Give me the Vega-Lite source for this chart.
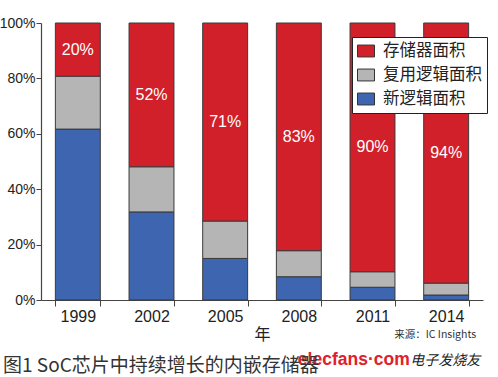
{
  "$schema": "https://vega.github.io/schema/vega-lite/v6.json",
  "width": 442,
  "height": 277,
  "autosize": {"type": "none"},
  "padding": {"left": 41, "top": 23, "right": 15, "bottom": 77},
  "background": "white",
  "config": {"view": {"stroke": null}, "font": "Liberation Sans"},
  "title": {
    "text": "图1  SoC芯片中持续增长的内嵌存储器",
    "orient": "bottom",
    "anchor": "start",
    "frame": "group",
    "dx": -38,
    "offset": -12,
    "font": "Noto Sans CJK SC",
    "fontSize": 19,
    "fontWeight": "normal",
    "color": "#333333"
  },
  "data": {
    "values": [
      {"year": "1999", "cat": "新逻辑面积", "rank": 1, "value": 61.7, "label": ""},
      {"year": "1999", "cat": "复用逻辑面积", "rank": 2, "value": 19.1, "label": ""},
      {"year": "1999", "cat": "存储器面积", "rank": 3, "value": 19.2, "label": "20%"},
      {"year": "2002", "cat": "新逻辑面积", "rank": 1, "value": 31.8, "label": ""},
      {"year": "2002", "cat": "复用逻辑面积", "rank": 2, "value": 16.3, "label": ""},
      {"year": "2002", "cat": "存储器面积", "rank": 3, "value": 51.9, "label": "52%"},
      {"year": "2005", "cat": "新逻辑面积", "rank": 1, "value": 15.0, "label": ""},
      {"year": "2005", "cat": "复用逻辑面积", "rank": 2, "value": 13.5, "label": ""},
      {"year": "2005", "cat": "存储器面积", "rank": 3, "value": 71.5, "label": "71%"},
      {"year": "2008", "cat": "新逻辑面积", "rank": 1, "value": 8.4, "label": ""},
      {"year": "2008", "cat": "复用逻辑面积", "rank": 2, "value": 9.4, "label": ""},
      {"year": "2008", "cat": "存储器面积", "rank": 3, "value": 82.2, "label": "83%"},
      {"year": "2011", "cat": "新逻辑面积", "rank": 1, "value": 4.6, "label": ""},
      {"year": "2011", "cat": "复用逻辑面积", "rank": 2, "value": 5.6, "label": ""},
      {"year": "2011", "cat": "存储器面积", "rank": 3, "value": 89.8, "label": "90%"},
      {"year": "2014", "cat": "新逻辑面积", "rank": 1, "value": 1.8, "label": ""},
      {"year": "2014", "cat": "复用逻辑面积", "rank": 2, "value": 4.3, "label": ""},
      {"year": "2014", "cat": "存储器面积", "rank": 3, "value": 93.9, "label": "94%"}
    ]
  },
  "encoding": {
    "x": {
      "field": "year",
      "type": "ordinal",
      "scale": {"paddingInner": 0.39, "paddingOuter": 0.195},
      "axis": {
        "title": "年",
        "titleFont": "Noto Sans CJK SC",
        "titleFontSize": 16,
        "titleFontWeight": "normal",
        "titleColor": "#222222",
        "titlePadding": 2,
        "labelAngle": 0,
        "labelFontSize": 16,
        "labelColor": "#222222",
        "labelPadding": 2,
        "tickBand": "extent",
        "tickSize": 6,
        "tickColor": "#444444",
        "domainColor": "#444444",
        "domainWidth": 1.2
      }
    }
  },
  "layer": [
    {
      "mark": {"type": "bar", "stroke": "#3a3a3a", "strokeWidth": 1},
      "encoding": {
        "y": {
          "field": "value",
          "type": "quantitative",
          "stack": "zero",
          "scale": {"domain": [0, 100], "nice": false},
          "axis": {
            "title": null,
            "values": [0, 20, 40, 60, 80, 100],
            "labelExpr": "datum.value + '%'",
            "labelFontSize": 14,
            "labelColor": "#222222",
            "labelPadding": 1,
            "tickSize": 5,
            "tickColor": "#444444",
            "domainColor": "#444444",
            "domainWidth": 1.2,
            "grid": false
          }
        },
        "color": {
          "field": "cat",
          "type": "nominal",
          "scale": {
            "domain": ["存储器面积", "复用逻辑面积", "新逻辑面积"],
            "range": ["#d1202a", "#b5b5b5", "#3d65b0"]
          },
          "legend": {
            "title": null,
            "orient": "none",
            "legendX": 311,
            "legendY": 14,
            "fillColor": "white",
            "strokeColor": "#222222",
            "padding": 5,
            "symbolType": "M-1,-0.7H1V0.7H-1Z",
            "symbolSize": 289,
            "symbolStrokeColor": "#333333",
            "symbolStrokeWidth": 1,
            "symbolOpacity": 1,
            "labelFont": "Noto Sans CJK SC",
            "labelFontSize": 16.5,
            "labelColor": "#222222",
            "labelOffset": 8,
            "rowPadding": 6
          }
        },
        "order": {"field": "rank", "type": "quantitative"}
      }
    },
    {
      "mark": {"type": "text", "color": "white", "fontSize": 16, "baseline": "middle"},
      "encoding": {
        "y": {"field": "value", "type": "quantitative", "stack": "zero", "bandPosition": 0.5},
        "detail": {"field": "cat", "type": "nominal"},
        "text": {"field": "label"},
        "order": {"field": "rank", "type": "quantitative"}
      }
    },
    {
      "transform": [{"filter": "datum.year == '2014' && datum.rank == 3"}],
      "mark": {"type": "text", "align": "right", "baseline": "middle", "dx": 30, "dy": 35, "font": "Noto Sans CJK SC", "fontSize": 10.5, "color": "#333333"},
      "encoding": {
        "y": {"datum": 0},
        "text": {"value": "来源：IC Insights"}
      }
    },
    {
      "transform": [{"filter": "datum.year == '2008' && datum.rank == 3"}],
      "mark": {"type": "text", "align": "left", "baseline": "middle", "dx": -1, "dy": 60, "fontSize": 17.5, "fontWeight": "bold", "color": "#e0202a"},
      "encoding": {
        "y": {"datum": 0},
        "text": {"value": "elecfans·com"}
      }
    },
    {
      "transform": [{"filter": "datum.year == '2014' && datum.rank == 3"}],
      "mark": {"type": "text", "align": "left", "baseline": "middle", "dx": -36, "dy": 61, "font": "Noto Sans CJK SC", "fontSize": 14, "fontStyle": "italic", "color": "#222222"},
      "encoding": {
        "y": {"datum": 0},
        "text": {"value": "电子发烧友"}
      }
    }
  ]
}
